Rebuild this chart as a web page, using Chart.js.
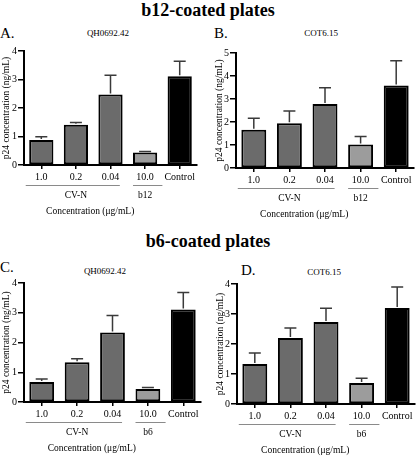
<!DOCTYPE html>
<html>
<head>
<meta charset="utf-8">
<script src="https://cdn.jsdelivr.net/npm/chart.js@4.4.0/dist/chart.umd.min.js"></script>
<style>
  body { margin: 0; background: #fff; font-family: "Liberation Serif", "Times New Roman", serif; color: #000; }
  #wrap { position: relative; width: 416px; height: 456px; overflow: hidden; }
  .box { position: absolute; width: 208px; height: 228px; }
  .head { position: absolute; left: 0; width: 416px; text-align: center; font-weight: bold; font-size: 18px; line-height: 18px; }
  .let { position: absolute; font-size: 15px; line-height: 15px; }
  .sub { position: absolute; font-size: 9px; line-height: 9px; transform: translateX(-50%); white-space: nowrap; }
</style>
</head>
<body>
<div id="wrap">
  <div class="head" style="top:1px">b12-coated plates</div>
  <div class="head" style="top:232px">b6-coated plates</div>

  <div class="let" style="left:0;top:26px">A.</div>
  <div class="let" style="left:214px;top:26px">B.</div>
  <div class="let" style="left:0;top:260px">C.</div>
  <div class="let" style="left:241px;top:263px">D.</div>

  <div class="sub" style="left:108px;top:29px">QH0692.42</div>
  <div class="sub" style="left:321px;top:29px">COT6.15</div>
  <div class="sub" style="left:105px;top:267px">QH0692.42</div>
  <div class="sub" style="left:324px;top:268px">COT6.15</div>

  <div class="box" style="left:0;top:0"><canvas id="chartA"></canvas></div>
  <div class="box" style="left:208px;top:0"><canvas id="chartB"></canvas></div>
  <div class="box" style="left:0;top:228px"><canvas id="chartC"></canvas></div>
  <div class="box" style="left:208px;top:228px"><canvas id="chartD"></canvas></div>
</div>

<script>
// categories along the x axis
var categories = ['1.0', '0.2', '0.04', '10.0', 'Control'];
var groupsB12 = ['CV-N', 'b12'];
var groupsB6 = ['CV-N', 'b6'];

// p24 concentration (ng/mL) and upper error (SEM)
var valuesA = [0.88, 1.41, 2.47, 0.44, 3.11];
var errorsA = [0.11, 0.08, 0.68, 0.03, 0.53];
var valuesB = [1.66, 1.95, 2.78, 1.02, 3.59];
var errorsB = [0.50, 0.53, 0.71, 0.35, 1.07];
var valuesC = [0.67, 1.34, 2.34, 0.44, 3.11];
var errorsC = [0.10, 0.11, 0.57, 0.05, 0.57];
var valuesD = [1.33, 2.20, 2.73, 0.70, 3.20];
var errorsD = [0.37, 0.33, 0.46, 0.16, 0.70];

var barColors = ['#6b6b6b', '#6b6b6b', '#6b6b6b', '#9c9c9c', '#000000'];
var serif = '"Liberation Serif", "Times New Roman", serif';

// upper error bars with caps
var errorPlugin = {
    id: 'errors',
    afterDatasetsDraw: function (chart, args, opts) {
        var ctx = chart.ctx, y = chart.scales.y;
        var vals = chart.data.datasets[0].data;
        ctx.save();
        ctx.strokeStyle = '#3a3a3a';
        ctx.lineWidth = 1.5;
        chart.getDatasetMeta(0).data.forEach(function (bar, i) {
            var base = y.getPixelForValue(vals[i]);
            var top = y.getPixelForValue(vals[i] + opts.values[i]);
            ctx.beginPath();
            ctx.moveTo(bar.x, base - 1);
            ctx.lineTo(bar.x, top);
            ctx.moveTo(bar.x - 6, top);
            ctx.lineTo(bar.x + 6, top);
            ctx.stroke();
        });
        ctx.restore();
    }
};

// group lines under the tick labels + x axis title
var groupPlugin = {
    id: 'groups',
    afterDraw: function (chart, args, opts) {
        var ctx = chart.ctx, x = chart.scales.x, bottom = chart.chartArea.bottom;
        var step = x.getPixelForValue(1) - x.getPixelForValue(0);
        var spans = [[0, 2, 0.45, 0.27], [3, 3, 0.35, 0.5]];
        ctx.save();
        ctx.font = '9.5px ' + serif;
        ctx.textAlign = 'center';
        ctx.textBaseline = 'middle';
        ctx.fillStyle = '#000';
        ctx.strokeStyle = '#8a8a8a';
        ctx.lineWidth = 1;
        spans.forEach(function (g, i) {
            var x1 = x.getPixelForValue(g[0]) - step * g[2];
            var x2 = x.getPixelForValue(g[1]) + step * g[3];
            ctx.beginPath();
            ctx.moveTo(x1, bottom + 20.5);
            ctx.lineTo(x2, bottom + 20.5);
            ctx.stroke();
            ctx.fillText(opts.labels[i], (x.getPixelForValue(g[0]) + x.getPixelForValue(g[1])) / 2, bottom + 30.5);
        });
        ctx.fillText('Concentration (\u03bcg/mL)', (x.getPixelForValue(0) + x.getPixelForValue(3)) / 2 - 3, bottom + 46);
        ctx.restore();
    }
};

function makeChart(id, values, errors, groups, yMax, lay) {
    return new Chart(document.getElementById(id).getContext('2d'), {
        type: 'bar',
        data: {
            labels: categories,
            datasets: [{
                data: values,
                backgroundColor: barColors,
                borderColor: '#000',
                borderWidth: 2,
                borderSkipped: false,
                barPercentage: 0.7,
                categoryPercentage: 1
            }]
        },
        options: {
            responsive: false,
            animation: false,
            layout: { padding: lay.padding },
            plugins: {
                legend: { display: false },
                tooltip: { enabled: false },
                errors: { values: errors },
                groups: { labels: groups }
            },
            scales: {
                x: {
                    afterFit: function (scale) { scale.height = lay.xh; },
                    grid: { display: true, drawOnChartArea: false, offset: false, tickLength: 4, color: '#000', lineWidth: 1.5 },
                    border: { display: true, color: '#000', width: 2 },
                    ticks: { color: '#000', padding: 2, font: { family: serif, size: 10 }, maxRotation: 0, autoSkip: false }
                },
                y: {
                    min: 0,
                    max: yMax,
                    afterFit: function (scale) { scale.width = lay.yw; },
                    grid: { display: true, drawOnChartArea: false, tickLength: 6, color: '#000', lineWidth: 1.5 },
                    border: { display: true, color: '#000', width: 2 },
                    ticks: { stepSize: 1, color: '#000', padding: 1, font: { family: serif, size: 10 } },
                    title: {
                        display: true,
                        text: 'p24 concentration (ng/mL)',
                        color: '#000',
                        font: { family: serif, size: 9.5 },
                        padding: { top: lay.tp, bottom: 0 }
                    }
                }
            }
        },
        plugins: [errorPlugin, groupPlugin]
    });
}

function sizeCanvas(id) {
    var c = document.getElementById(id);
    c.width = 208; c.height = 228;
    c.style.width = '208px'; c.style.height = '228px';
}
['chartA', 'chartB', 'chartC', 'chartD'].forEach(sizeCanvas);

makeChart('chartA', valuesA, errorsA, groupsB12, 4,
    { padding: { left: 0, top: 51, right: 11, bottom: 7 }, xh: 56, yw: 24, tp: 1.2 });
makeChart('chartB', valuesB, errorsB, groupsB12, 5,
    { padding: { left: 0, top: 53, right: 2, bottom: 4 }, xh: 56, yw: 28, tp: 6.2 });
makeChart('chartC', valuesC, errorsC, groupsB6, 4,
    { padding: { left: 0, top: 55, right: 7, bottom: 0 }, xh: 54, yw: 24, tp: 1.2 });
makeChart('chartD', valuesD, errorsD, groupsB6, 4,
    { padding: { left: 0, top: 56, right: 1, bottom: 0 }, xh: 52, yw: 29, tp: 7.2 });
</script>
</body>
</html>
